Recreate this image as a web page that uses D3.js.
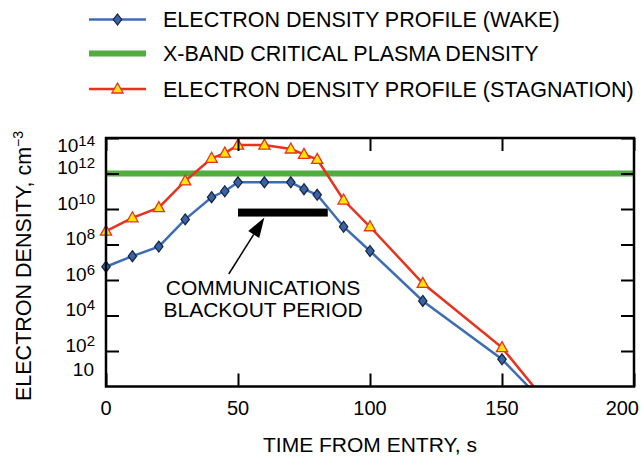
<!DOCTYPE html>
<html>
<head>
<meta charset="utf-8">
<script src="https://cdn.jsdelivr.net/npm/d3@7"></script>
<style>
  html, body { margin: 0; padding: 0; background: #fff; }
  svg { display: block; font-family: "Liberation Sans", Arial, Helvetica, sans-serif; }
</style>
</head>
<body>
<svg id="chart" width="641" height="461"></svg>
<script>
// time from entry, s
const times = [0, 10, 20, 30, 40, 45, 50, 60, 70, 75, 80, 90, 100, 120, 150];
// electron density, cm^-3
const wakeDensity = [5.6e6, 2.2e7, 7.6e7, 2.6e9, 4.6e10, 1.0e11, 3.2e11, 3.2e11, 3.2e11, 1.3e11, 6.3e10, 1.0e9, 4.3e7, 6.6e4, 34];
const stagDensity = [5.6e8, 3.2e9, 1.2e10, 3.8e11, 7.2e12, 1.4e13, 4.0e13, 4.0e13, 2.4e13, 1.2e13, 6.3e12, 3.2e10, 1.0e9, 6.5e5, 155];
// where each line runs out of the bottom of the plot (no marker)
const wakeTail = { t: 160, v: 1 };
const stagTail = { t: 162, v: 1 };
const criticalDensity = 1e12;
const blackoutPeriod = [50, 84];
const blackoutLevel = 6.3e9;
const xTicks = [0, 50, 100, 150, 200];
const yTicks = [1e2, 1e4, 1e6, 1e8, 1e10, 1e12, 1e14];
const legendLabels = [
  'ELECTRON DENSITY PROFILE (WAKE)',
  'X-BAND CRITICAL PLASMA DENSITY',
  'ELECTRON DENSITY PROFILE (STAGNATION)'
];

const BLUE = '#3d6db5';
const RED = '#e8321e';
const GREEN = '#4fae3d';

const svg = d3.select('#chart');
const plotLeft = 106, plotRight = 634, plotTop = 138, plotBottom = 386.5;

const x = d3.scaleLinear().domain([0, 200]).range([plotLeft, plotRight]);
const y = d3.scaleLog().domain([1, 1e14]).range([plotBottom, plotTop]);

const diamond = 'M0,-5.5L4.2,0L0,5.5L-4.2,0Z';
const triangle = 'M0,-6L5.6,4L-5.6,4Z';

const wakeData = times.map((t, i) => ({ t: t, v: wakeDensity[i] }));
const stagData = times.map((t, i) => ({ t: t, v: stagDensity[i] }));

// clip for lines
svg.append('clipPath').attr('id', 'plot-clip')
  .append('rect')
  .attr('x', plotLeft).attr('y', plotTop)
  .attr('width', plotRight - plotLeft).attr('height', plotBottom - plotTop);

const plot = svg.append('g').attr('clip-path', 'url(#plot-clip)');

// critical density line
plot.append('line')
  .attr('x1', x(0)).attr('x2', x(200))
  .attr('y1', y(criticalDensity)).attr('y2', y(criticalDensity))
  .attr('stroke', GREEN).attr('stroke-width', 6);

// blackout bar
plot.append('rect')
  .attr('x', x(blackoutPeriod[0]))
  .attr('width', x(blackoutPeriod[1]) - x(blackoutPeriod[0]))
  .attr('y', y(blackoutLevel) - 4)
  .attr('height', 8)
  .attr('fill', '#000');

const valueLine = d3.line()
  .x(d => x(d.t))
  .y(d => y(d.v));

plot.append('path')
  .attr('d', valueLine(wakeData.concat([wakeTail])))
  .attr('fill', 'none').attr('stroke', BLUE).attr('stroke-width', 2.5);

plot.append('path')
  .attr('d', valueLine(stagData.concat([stagTail])))
  .attr('fill', 'none').attr('stroke', RED).attr('stroke-width', 2.5);

// markers
svg.append('g').selectAll('path')
  .data(wakeData)
  .enter()
  .append('path')
  .attr('d', diamond)
  .attr('transform', d => `translate(${x(d.t)},${y(d.v)})`)
  .attr('fill', '#3a63a6').attr('stroke', '#14213d').attr('stroke-width', 1.2);

svg.append('g').selectAll('path')
  .data(stagData)
  .enter()
  .append('path')
  .attr('d', triangle)
  .attr('transform', d => `translate(${x(d.t)},${y(d.v)})`)
  .attr('fill', '#ffe600').attr('stroke', RED).attr('stroke-width', 1.3);

// axes: inside ticks on all four sides, labels drawn by hand
const tickLen = 13;
svg.append('g').attr('transform', `translate(${plotLeft},0)`)
  .call(d3.axisLeft(y).tickValues(yTicks).tickSize(-tickLen).tickFormat(''));
svg.append('g').attr('transform', `translate(${plotRight},0)`)
  .call(d3.axisRight(y).tickValues(yTicks).tickSize(-tickLen).tickFormat(''));
svg.append('g').attr('transform', `translate(0,${plotBottom})`)
  .call(d3.axisBottom(x).tickValues(xTicks).tickSize(-tickLen).tickFormat(''));
svg.append('g').attr('transform', `translate(0,${plotTop})`)
  .call(d3.axisTop(x).tickValues(xTicks).tickSize(-tickLen).tickFormat(''));
svg.selectAll('.domain').remove();
svg.selectAll('.tick line').attr('stroke', '#000').attr('stroke-width', 2);

// frame
svg.append('rect')
  .attr('x', plotLeft).attr('y', plotTop)
  .attr('width', plotRight - plotLeft).attr('height', plotBottom - plotTop)
  .attr('fill', 'none').attr('stroke', '#000').attr('stroke-width', 2.5);

// y tick labels: 10 with exponent, right aligned
const yLabels = svg.append('g').attr('font-size', 19).attr('fill', '#000');
yTicks.forEach(v => {
  const exp = Math.round(Math.log10(v));
  // top label sits just under the frame, the rest a little above their tick
  const baseY = exp === 14 ? y(v) + 13.5 : y(v) + 0.5;
  const lbl = yLabels.append('text')
    .attr('x', 95)
    .attr('y', baseY)
    .attr('text-anchor', 'end');
  lbl.append('tspan').text('10');
  lbl.append('tspan').attr('font-size', 15).attr('dy', -6).text(exp);
});
// bottom label of the axis
yLabels.append('text')
  .attr('x', 94)
  .attr('y', y(1) - 11)
  .attr('text-anchor', 'end')
  .text('10');

// x tick labels
const xLabels = svg.append('g').attr('font-size', 20).attr('fill', '#000');
xTicks.forEach(t => {
  xLabels.append('text')
    .attr('x', t === 200 ? x(t) + 5 : x(t))
    .attr('y', plotBottom + 28)
    .attr('text-anchor', t === 200 ? 'end' : 'middle')
    .text(t);
});

// axis titles
svg.append('text')
  .attr('x', x(100))
  .attr('y', 452)
  .attr('text-anchor', 'middle')
  .attr('font-size', 21)
  .text('TIME FROM ENTRY, s');

const yTitle = svg.append('text')
  .attr('transform', `translate(31,${(130 + 402) / 2}) rotate(-90)`)
  .attr('text-anchor', 'middle')
  .attr('font-size', 21.5);
yTitle.append('tspan').text('ELECTRON DENSITY, cm');
yTitle.append('tspan').attr('font-size', 14).attr('dy', -8).text('\u22123');

// annotation
const tip = [x(60), y(blackoutLevel) + 5];
const tail = [x(46.5), y(1e6) - 6];
const ang = Math.atan2(tip[1] - tail[1], tip[0] - tail[0]);
const headLen = 20, headW = 6.5;
const base = [tip[0] - headLen * Math.cos(ang), tip[1] - headLen * Math.sin(ang)];
svg.append('line')
  .attr('x1', tail[0]).attr('y1', tail[1])
  .attr('x2', base[0]).attr('y2', base[1])
  .attr('stroke', '#000').attr('stroke-width', 1.5);
svg.append('path')
  .attr('d', `M${tip[0]},${tip[1]}` +
    `L${base[0] + headW * Math.sin(ang)},${base[1] - headW * Math.cos(ang)}` +
    `L${base[0] - headW * Math.sin(ang)},${base[1] + headW * Math.cos(ang)}Z`)
  .attr('fill', '#000');

const note = svg.append('text')
  .attr('text-anchor', 'middle')
  .attr('font-size', 21)
  .attr('fill', '#000');
note.append('tspan').attr('x', x(59.5)).attr('y', 294.5).text('COMMUNICATIONS');
note.append('tspan').attr('x', x(59.5)).attr('y', 317).text('BLACKOUT PERIOD');

// legend
const legendRows = [19.5, 53.5, 89];
const legend = svg.append('g');
legendRows.forEach((ry, i) => {
  const color = [BLUE, GREEN, RED][i];
  legend.append('line')
    .attr('x1', 89).attr('x2', 146)
    .attr('y1', ry).attr('y2', ry)
    .attr('stroke', color).attr('stroke-width', i === 1 ? 6 : 2.5);
  if (i === 0) {
    legend.append('path').attr('d', diamond)
      .attr('transform', `translate(117.5,${ry})`)
      .attr('fill', '#3a63a6').attr('stroke', '#14213d').attr('stroke-width', 1.2);
  } else if (i === 2) {
    legend.append('path').attr('d', triangle)
      .attr('transform', `translate(117.5,${ry})`)
      .attr('fill', '#ffe600').attr('stroke', RED).attr('stroke-width', 1.3);
  }
  legend.append('text')
    .attr('x', 163)
    .attr('y', ry + 7.5)
    .attr('font-size', 21.5)
    .attr('fill', '#000')
    .text(legendLabels[i]);
});
</script>
</body>
</html>
